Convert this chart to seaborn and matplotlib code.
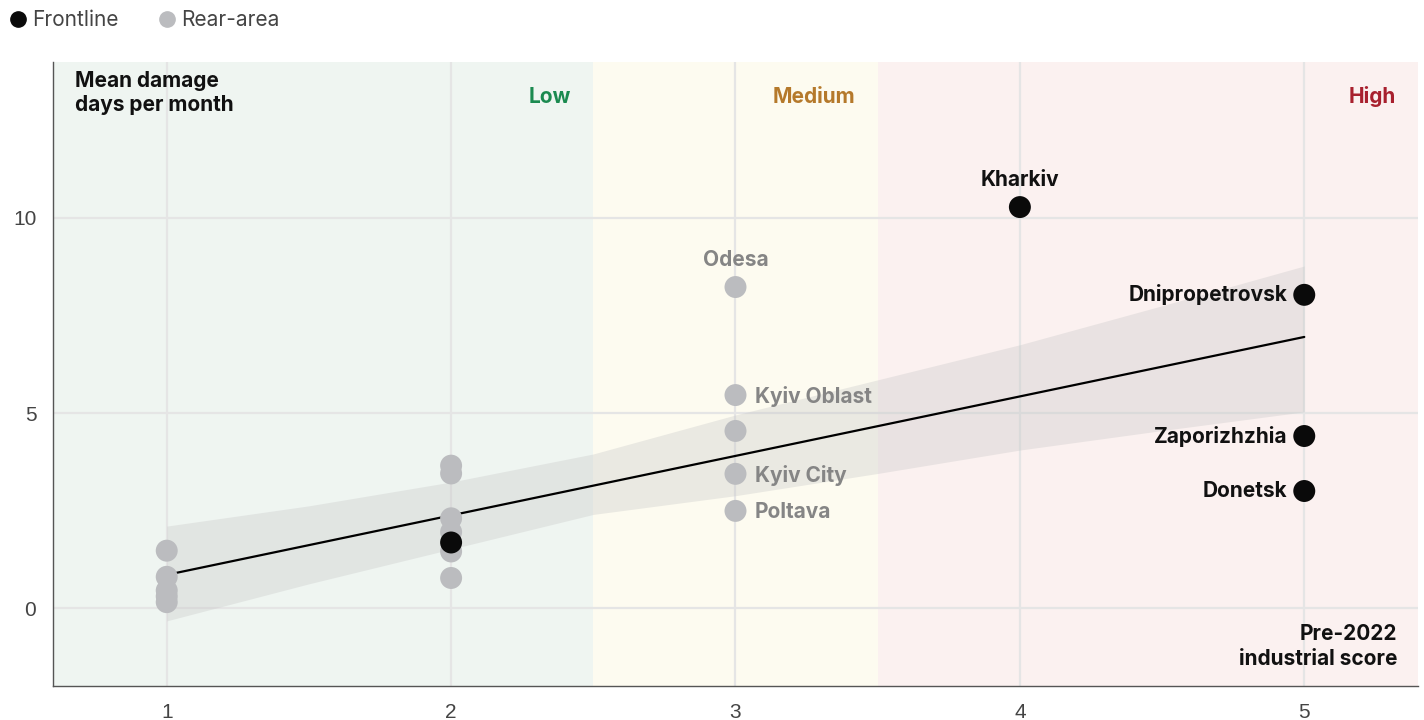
import numpy as np
import pandas as pd
import matplotlib
matplotlib.use("Agg")
import matplotlib.pyplot as plt
import seaborn as sns

# score (x) and mean damage days per month (y)
front_x = [2, 4, 5, 5, 5]
front_y = [1.68, 10.28, 8.03, 4.41, 3.0]
front_names = ["", "Kharkiv", "Dnipropetrovsk", "Zaporizhzhia", "Donetsk"]

rear_x = [1, 1, 1, 1, 1, 2, 2, 2, 2, 2, 2, 3, 3, 3, 3, 3]
rear_y = [1.47, 0.8, 0.45, 0.3, 0.15, 3.65, 3.45, 2.3, 1.95, 1.45, 0.77,
          8.23, 5.46, 4.54, 3.44, 2.49]
rear_names = [""] * 11 + ["Odesa", "Kyiv Oblast", "", "Kyiv City", "Poltava"]

# fitted trend and its confidence band
fit_x = [1, 5]
fit_y = [0.85, 6.95]
band_x = [1, 1.5, 2, 2.5, 3, 3.5, 4, 4.5, 5]
band_lo = [-0.33, 0.62, 1.51, 2.40, 2.88, 3.45, 4.05, 4.55, 5.03]
band_hi = [2.10, 2.62, 3.23, 3.95, 4.95, 5.85, 6.75, 7.75, 8.77]

zones = ["Low", "Medium", "High"]
zone_edges = [0.6, 2.5, 3.5, 5.4]
zone_bg = ["#eff5f1", "#fdfbf0", "#fbf1f0"]
zone_fg = ["#1b8a50", "#b5792b", "#a8202e"]

df = pd.DataFrame({
    "score": front_x + rear_x,
    "damage": front_y + rear_y,
    "group": ["Frontline"] * len(front_x) + ["Rear-area"] * len(rear_x),
    "name": front_names + rear_names,
})

sns.set_style("white")
plt.rcParams["font.family"] = ["Inter", "DejaVu Sans"]

fig = plt.figure(figsize=(14.24, 7.2), dpi=100)
ax = fig.add_axes([0.0372, 0.0472, 0.9586, 0.8667])

for i in range(3):
    ax.axvspan(zone_edges[i], zone_edges[i + 1], color=zone_bg[i], zorder=0, lw=0)
    ax.annotate(zones[i], xy=(zone_edges[i + 1], 14), xytext=(-16, -25),
                textcoords="offset points", ha="right", va="center",
                fontsize=15, fontweight="bold", color=zone_fg[i])

ax.set_xlim(0.6, 5.4)
ax.set_ylim(-2, 14)
ax.set_xticks([1, 2, 3, 4, 5])
ax.set_yticks([0, 5, 10])
ax.grid(True, color="#e5e5e5", lw=1.6, zorder=1)
ax.set_axisbelow(True)

ax.fill_between(band_x, band_lo, band_hi, color="#c8c8c8", alpha=0.35, lw=0, zorder=2)
sns.lineplot(x=fit_x, y=fit_y, color="black", lw=1.6, ax=ax, zorder=3)

sns.scatterplot(data=df[df.group == "Rear-area"], x="score", y="damage",
                color="#bbbcbf", s=250, edgecolor="none", ax=ax, zorder=4)
sns.scatterplot(data=df[df.group == "Frontline"], x="score", y="damage",
                color="#0a0a0a", s=250, edgecolor="none", ax=ax, zorder=5)

for _, r in df[df.name != ""].iterrows():
    col = "#111111" if r.group == "Frontline" else "#858585"
    if r["name"] in ("Kharkiv", "Odesa"):
        off, ha, va = (0, 12), "center", "bottom"
    elif r.score == 5:
        off, ha, va = (-12, 0), "right", "center"
    else:
        off, ha, va = (14, -1), "left", "center"
    ax.annotate(r["name"], xy=(r.score, r.damage), xytext=off, textcoords="offset points",
                ha=ha, va=va, fontsize=15, fontweight="bold", color=col, zorder=6)

ax.text(0.016, 0.985, "Mean damage\ndays per month", transform=ax.transAxes,
        ha="left", va="top", fontsize=15, fontweight="bold", color="#111111",
        linespacing=1.22)
ax.text(0.985, 0.028, "Pre-2022\nindustrial score", transform=ax.transAxes,
        ha="right", va="bottom", fontsize=15, fontweight="bold", color="#111111",
        linespacing=1.3)

ax.set_xlabel("")
ax.set_ylabel("")
for s in ["top", "right"]:
    ax.spines[s].set_visible(False)
for s in ["left", "bottom"]:
    ax.spines[s].set_color("#555555")
    ax.spines[s].set_linewidth(1.0)
ax.tick_params(length=0, labelsize=15, labelcolor="#444444", pad=12)
for lab in ax.get_xticklabels() + ax.get_yticklabels():
    lab.set_family(["Liberation Sans", "DejaVu Sans"])

handles = [
    plt.Line2D([], [], marker="o", ls="", color="#0a0a0a", markersize=11),
    plt.Line2D([], [], marker="o", ls="", color="#bbbcbf", markersize=11),
]
fig.legend(handles, ["Frontline", "Rear-area"], loc="upper left",
           bbox_to_anchor=(-0.0155, 1.012), ncol=2, frameon=False, fontsize=15,
           handletextpad=-0.3, columnspacing=1.3, labelcolor="#444444")

fig.savefig("out.png", dpi=100)
